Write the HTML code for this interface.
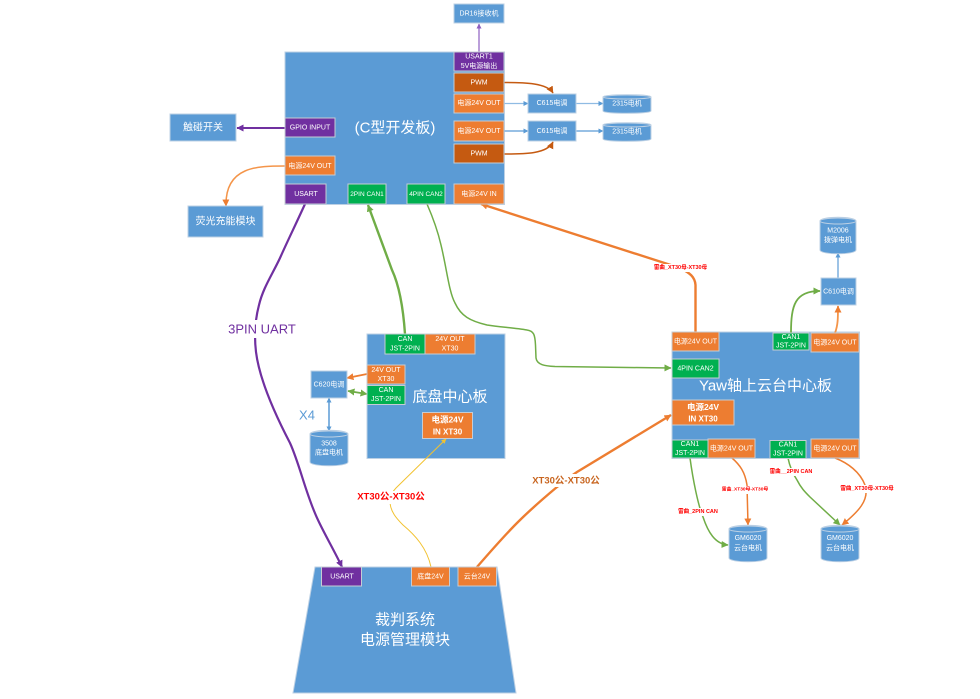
<!DOCTYPE html>
<html><head><meta charset="utf-8">
<style>
html,body{margin:0;padding:0;background:#fff;width:980px;height:699px;overflow:hidden}
svg{display:block;filter:blur(0.35px)}
text{font-family:"Liberation Sans","Noto Sans CJK SC",sans-serif;text-anchor:middle;fill:#fff;dominant-baseline:central}
.s{font-size:7px}
.bb{fill:#5b9bd5;stroke:#bcd0e4;stroke-width:1}
.or{fill:#ed7d31;stroke:#c5ccd4;stroke-width:1}
.dor{fill:#c55a11;stroke:#c5ccd4;stroke-width:1}
.pu{fill:#7030a0;stroke:#c5ccd4;stroke-width:1}
.gr{fill:#00b050;stroke:#c5ccd4;stroke-width:1}
.c{fill:none}
.r{fill:#ff0000;font-weight:bold}
</style></head><body>
<svg width="980" height="699" viewBox="0 0 980 699" xmlns="http://www.w3.org/2000/svg">
<defs>
<marker id="ao" markerUnits="userSpaceOnUse" markerWidth="8" markerHeight="8" refX="6.500" refY="3.500" orient="auto-start-reverse"><path d="M0 0L7 3.500L0 7z" fill="#ed7d31"/></marker>
<marker id="ad" markerUnits="userSpaceOnUse" markerWidth="8" markerHeight="8" refX="6.500" refY="3.500" orient="auto"><path d="M0 0L7 3.500L0 7z" fill="#c55a11"/></marker>
<marker id="ag" markerUnits="userSpaceOnUse" markerWidth="8" markerHeight="8" refX="6.500" refY="3.500" orient="auto-start-reverse"><path d="M0 0L7 3.500L0 7z" fill="#70ad47"/></marker>
<marker id="ap" markerUnits="userSpaceOnUse" markerWidth="8" markerHeight="8" refX="6.500" refY="3.500" orient="auto"><path d="M0 0L7 3.500L0 7z" fill="#7030a0"/></marker>
<marker id="al" markerUnits="userSpaceOnUse" markerWidth="6" markerHeight="6" refX="4.500" refY="2.500" orient="auto"><path d="M0 0L5 2.500L0 5z" fill="#8e5fc0"/></marker>
<marker id="ab" markerUnits="userSpaceOnUse" markerWidth="6" markerHeight="6" refX="4.500" refY="2.500" orient="auto-start-reverse"><path d="M0 0L5 2.500L0 5z" fill="#5b9bd5"/></marker>
<marker id="ay" markerUnits="userSpaceOnUse" markerWidth="6" markerHeight="6" refX="4.500" refY="2.500" orient="auto"><path d="M0 0L5 2.500L0 5z" fill="#f2c230"/></marker>
</defs>

<!-- main boards -->
<rect class="bb" x="285" y="52" width="219.500" height="152.500"/>
<rect class="bb" x="367" y="334" width="138" height="124.500"/>
<rect class="bb" x="672" y="332" width="187.500" height="126.500"/>
<path class="bb" d="M315 567L497 567L516 693L293 693Z"/>

<!-- connectors -->
<path class="c" d="M479 52V24" stroke="#8e5fc0" stroke-width="1.200" marker-end="url(#al)"/>
<path class="c" d="M504 82.500C525 82.500 547 83 553 93" stroke="#c55a11" stroke-width="1.500" marker-end="url(#ad)"/>
<path class="c" d="M504 154C525 154 547 154 553 142" stroke="#c55a11" stroke-width="1.500" marker-end="url(#ad)"/>
<path class="c" d="M504 103.500H528" stroke="#8fbbe3" stroke-width="1.200" marker-end="url(#ab)"/>
<path class="c" d="M504 131H528" stroke="#5b9bd5" stroke-width="1.200" marker-end="url(#ab)"/>
<path class="c" d="M576 103.500H603" stroke="#8fbbe3" stroke-width="1.200" marker-end="url(#ab)"/>
<path class="c" d="M576 131H603" stroke="#5b9bd5" stroke-width="1.200" marker-end="url(#ab)"/>
<path class="c" d="M285 128H237" stroke="#7030a0" stroke-width="2" marker-end="url(#ap)"/>
<path class="c" d="M285 166C258 166 225 166 226 206" stroke="#f4954a" stroke-width="1.500" marker-end="url(#ao)"/>
<path class="c" d="M305 204C295 226 288 240 280 258C272 275 263 288 259 305C255 320 254 335 256 352C258 368 265 395 290 443C300 465 306 495 318 520C325 535 335 552 342 567" stroke="#7030a0" stroke-width="2.200" marker-end="url(#ap)"/>
<path class="c" d="M405 334C403 305 399 285 392 270L368 205" stroke="#70ad47" stroke-width="2.400" marker-end="url(#ag)"/>
<path class="c" d="M427 204C434 220 438 232 441 245C447 270 449 292 455 303C461 316 470 321 487 325C500 327 515 328 527 330C534 331 535 335 535.500 345L536 358C537 365 545 366 555 366.500L671 368" stroke="#70ad47" stroke-width="1.500" marker-end="url(#ag)"/>
<path class="c" d="M695.500 332L695.500 285C695 277 690 273 680 268L481 204" stroke="#ed7d31" stroke-width="2.400" marker-end="url(#ao)"/>
<path class="c" d="M367 374L347 378" stroke="#ed7d31" stroke-width="1.800" marker-end="url(#ao)"/>
<path class="c" d="M367 394L348 391" stroke="#70ad47" stroke-width="1.800" marker-start="url(#ag)" marker-end="url(#ag)"/>
<path class="c" d="M329 398V431" stroke="#5b9bd5" stroke-width="1.500" marker-start="url(#ab)" marker-end="url(#ab)"/>
<path class="c" d="M431 567C427 548 415 535 403 525C396 518 391 512 390 503C391 495 392 492 396 488L446 439" stroke="#f2c230" stroke-width="1" marker-end="url(#ay)"/>
<path class="c" d="M477 567C490 552 505 535 517 523C530 510 545 497 557 487C566 480 571 476 577 472L671 415" stroke="#ed7d31" stroke-width="2.400" marker-end="url(#ao)"/>
<path class="c" d="M791 333C791 305 795 291 820 291" stroke="#70ad47" stroke-width="1.800" marker-end="url(#ag)"/>
<path class="c" d="M835 333C838 325 838 318 838 306" stroke="#f4954a" stroke-width="1.800" marker-end="url(#ao)"/>
<path class="c" d="M838 278V253" stroke="#5b9bd5" stroke-width="1.200" marker-end="url(#ab)"/>
<path class="c" d="M690 458C693 480 698 505 703 517C708 532 715 544 728 545" stroke="#70ad47" stroke-width="1.500" marker-end="url(#ag)"/>
<path class="c" d="M732 458C740 465 745 472 747 485L748 525" stroke="#ed7d31" stroke-width="1.500" marker-end="url(#ao)"/>
<path class="c" d="M788 458C790 468 793 474 797 480C801 488 805 492 810 497L840 525" stroke="#70ad47" stroke-width="1.500" marker-end="url(#ag)"/>
<path class="c" d="M835 458C848 463 860 472 865 485C870 500 858 512 842 525" stroke="#ed7d31" stroke-width="1.500" marker-end="url(#ao)"/>

<!-- C board -->
<rect class="bb" x="454" y="4" width="50" height="19"/><text class="s" x="479" y="14">DR16接收机</text>
<text x="395" y="128" font-size="15">(C型开发板)</text>
<rect class="pu" x="454" y="52" width="50" height="19"/><text class="s" x="479" y="57">USART1</text><text class="s" x="479" y="66.500">5V电源输出</text>
<rect class="dor" x="454" y="73" width="50" height="19"/><text class="s" x="479" y="83">PWM</text>
<rect class="or" x="454" y="94" width="50" height="19"/><text class="s" x="479" y="103.500">电源24V OUT</text>
<rect class="or" x="454" y="121" width="50" height="20"/><text class="s" x="479" y="131.500">电源24V OUT</text>
<rect class="dor" x="454" y="144" width="50" height="19"/><text class="s" x="479" y="154">PWM</text>
<rect class="or" x="454" y="184" width="50" height="20"/><text class="s" x="479" y="194.500">电源24V IN</text>
<rect class="pu" x="285" y="118" width="50" height="19"/><text class="s" x="310" y="128">GPIO INPUT</text>
<rect class="or" x="285" y="156" width="50" height="19"/><text class="s" x="310" y="166.500">电源24V OUT</text>
<rect class="pu" x="285" y="184" width="41" height="20"/><text class="s" x="306" y="194.500">USART</text>
<rect class="gr" x="348" y="184" width="38" height="20"/><text x="367" y="194.500" font-size="6.500">2PIN CAN1</text>
<rect class="gr" x="407" y="184" width="38" height="20"/><text x="426" y="194.500" font-size="6.500">4PIN CAN2</text>

<!-- C615 and motors -->
<rect class="bb" x="528" y="94" width="48" height="19"/><text class="s" x="552" y="103.500">C615电调</text>
<rect class="bb" x="528" y="121" width="48" height="20"/><text class="s" x="552" y="131.500">C615电调</text>
<path class="bb" d="M603 97C603 94 651 94 651 97V111C651 114 603 114 603 111Z"/><ellipse cx="627" cy="97" rx="24" ry="2" fill="#5b9bd5" stroke="#bcd0e4"/><text class="s" x="627" y="104">2315电机</text>
<path class="bb" d="M603 125C603 122 651 122 651 125V139C651 142 603 142 603 139Z"/><ellipse cx="627" cy="125" rx="24" ry="2" fill="#5b9bd5" stroke="#bcd0e4"/><text class="s" x="627" y="132">2315电机</text>

<!-- left nodes -->
<rect class="bb" x="170" y="114" width="66" height="27"/><text x="203" y="128" font-size="10">触碰开关</text>
<rect class="bb" x="188" y="206" width="75" height="31"/><text x="225.500" y="222" font-size="10">荧光充能模块</text>

<!-- 3PIN label -->
<rect x="227" y="320" width="70" height="18" fill="#fff"/>
<text x="262" y="329" font-size="13" style="fill:#7030a0">3PIN UART</text>

<!-- base board -->
<text x="450" y="397" font-size="15">底盘中心板</text>
<rect class="gr" x="385" y="334" width="40" height="20"/><text class="s" x="405" y="339.500">CAN</text><text class="s" x="405" y="349">JST-2PIN</text>
<rect class="or" x="425" y="334" width="50" height="20"/><text class="s" x="450" y="339.500">24V OUT</text><text class="s" x="450" y="349">XT30</text>
<rect class="or" x="367" y="365" width="38" height="19"/><text class="s" x="386" y="370.500">24V OUT</text><text class="s" x="386" y="379.500">XT30</text>
<rect class="gr" x="367" y="385.500" width="38" height="19"/><text class="s" x="386" y="390.500">CAN</text><text class="s" x="386" y="399.500">JST-2PIN</text>
<rect class="or" x="422.500" y="412.500" width="50" height="26"/><text x="447.500" y="419.500" font-size="8.500" font-weight="bold">电源24V</text><text x="447.500" y="432" font-size="8" font-weight="bold">IN XT30</text>
<rect class="bb" x="311" y="371" width="36" height="27"/><text class="s" x="329" y="385">C620电调</text>
<text x="307" y="415" font-size="13" style="fill:#5b9bd5">X4</text>
<path class="bb" d="M310 434C310 429 348 429 348 434V462C348 467 310 467 310 462Z"/><ellipse cx="329" cy="434" rx="19" ry="3" fill="#5b9bd5" stroke="#bcd0e4"/><text class="s" x="329" y="444">3508</text><text class="s" x="329" y="453">底盘电机</text>

<!-- yaw board -->
<text x="765.500" y="386" font-size="15">Yaw轴上云台中心板</text>
<rect class="or" x="672" y="332" width="47" height="19"/><text class="s" x="695.500" y="342">电源24V OUT</text>
<rect class="gr" x="672" y="359" width="47" height="19"/><text class="s" x="695.500" y="369">4PIN CAN2</text>
<rect class="gr" x="773" y="333" width="36" height="17"/><text class="s" x="791" y="337.500">CAN1</text><text class="s" x="791" y="346">JST-2PIN</text>
<rect class="or" x="811" y="333" width="48" height="19"/><text class="s" x="835" y="343">电源24V OUT</text>
<rect class="or" x="672" y="400" width="62" height="25"/><text x="703" y="407" font-size="8.500" font-weight="bold">电源24V</text><text x="703" y="419" font-size="8" font-weight="bold">IN XT30</text>
<rect class="gr" x="672" y="440" width="36" height="18"/><text class="s" x="690" y="444.500">CAN1</text><text class="s" x="690" y="453.500">JST-2PIN</text>
<rect class="or" x="708" y="439" width="47" height="19"/><text class="s" x="731.500" y="449">电源24V OUT</text>
<rect class="gr" x="770" y="440.500" width="36" height="18"/><text class="s" x="788" y="445">CAN1</text><text class="s" x="788" y="454">JST-2PIN</text>
<rect class="or" x="811" y="439" width="48" height="19"/><text class="s" x="835" y="449">电源24V OUT</text>

<rect class="bb" x="821" y="278" width="35" height="27"/><text class="s" x="838.500" y="292">C610电调</text>
<path class="bb" d="M820 221C820 216 856 216 856 221V250C856 255 820 255 820 250Z"/><ellipse cx="838" cy="221" rx="18" ry="3" fill="#5b9bd5" stroke="#bcd0e4"/><text class="s" x="838" y="231">M2006</text><text class="s" x="838" y="240.500">拨弹电机</text>
<path class="bb" d="M729 529C729 524 767 524 767 529V558C767 563 729 563 729 558Z"/><ellipse cx="748" cy="529" rx="19" ry="3" fill="#5b9bd5" stroke="#bcd0e4"/><text class="s" x="748" y="538.500">GM6020</text><text class="s" x="748" y="548.500">云台电机</text>
<path class="bb" d="M821 529C821 524 859 524 859 529V558C859 563 821 563 821 558Z"/><ellipse cx="840" cy="529" rx="19" ry="3" fill="#5b9bd5" stroke="#bcd0e4"/><text class="s" x="840" y="538.500">GM6020</text><text class="s" x="840" y="548.500">云台电机</text>

<!-- power module -->
<text x="405" y="620" font-size="15">裁判系统</text>
<text x="405" y="640" font-size="15">电源管理模块</text>
<rect class="pu" x="321.500" y="567" width="40" height="19"/><text class="s" x="342" y="577">USART</text>
<rect class="or" x="411.500" y="567" width="38" height="19"/><text class="s" x="430.500" y="577">底盘24V</text>
<rect class="or" x="458" y="567" width="38.500" height="19"/><text class="s" x="477" y="577">云台24V</text>

<!-- red labels -->
<rect x="358" y="491" width="66" height="13" fill="#fff"/>
<text class="r" x="391" y="497" font-size="9.500">XT30公-XT30公</text>
<rect x="534" y="474" width="66" height="13" fill="#fff"/>
<text x="566" y="481" font-size="9.500" font-weight="bold" style="fill:#c8641e">XT30公-XT30公</text>
<rect x="654" y="264" width="53" height="8" fill="#fff"/>
<text class="r" x="680.500" y="268" font-size="5.500">雷曲_XT30母-XT30母</text>
<rect x="679" y="508" width="40" height="8" fill="#fff"/>
<text class="r" x="698" y="512" font-size="5.500">雷曲_2PIN CAN</text>
<rect x="722" y="486" width="46" height="8" fill="#fff"/>
<text class="r" x="745" y="490" font-size="4.800">雷曲_XT30母-XT30母</text>
<rect x="770" y="468" width="42" height="8" fill="#fff"/>
<text class="r" x="791" y="472" font-size="5.500">雷曲__2PIN CAN</text>
<rect x="840" y="485" width="54" height="8" fill="#fff"/>
<text class="r" x="867" y="489" font-size="5.500">雷曲_XT30母-XT30母</text>
</svg>
</body></html>
